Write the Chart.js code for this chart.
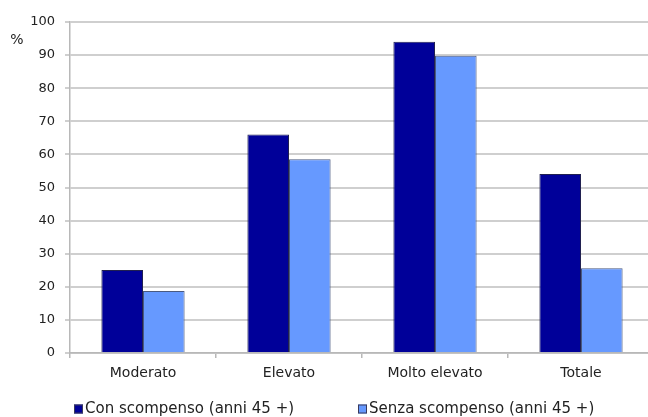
<!DOCTYPE html>
<html>
<head>
<meta charset="utf-8">
<script src="https://cdn.jsdelivr.net/npm/chart.js@4/dist/chart.umd.min.js"></script>
<style>
  html, body { margin: 0; padding: 0; background: #fff; overflow: hidden; }
  #wrap { width: 660px; height: 417px; }
</style>
</head>
<body>
<div id="wrap"><canvas id="c" width="660" height="417"></canvas></div>
<script>
const categories = ["Moderato", "Elevato", "Molto elevato", "Totale"];
const seriesNames = ["Con scompenso (anni 45 +)", "Senza scompenso (anni 45 +)"];
const conScompenso = [25.1, 66.0, 94.0, 54.1];
const senzaScompenso = [18.7, 58.5, 89.8, 25.6];
const yTicks = [0, 10, 20, 30, 40, 50, 60, 70, 80, 90, 100];
const yUnit = "%";

const FONT = "'DejaVu Sans', Verdana, sans-serif";

const legendPlugin = {
  id: 'customLegend',
  afterDraw(chart) {
    const ctx = chart.ctx;
    const xs = chart.scales.x;
    const offsets = [4, 288];
    const y = 409;
    ctx.save();
    ctx.font = "15px " + FONT;
    ctx.textBaseline = 'middle';
    ctx.textAlign = 'left';
    chart.data.datasets.forEach((ds, i) => {
      const x = xs.left + offsets[i];
      ctx.fillStyle = ds.backgroundColor;
      ctx.fillRect(x, y - 4.5, 9, 9);
      ctx.strokeStyle = '#3a3a5a';
      ctx.lineWidth = 1;
      ctx.strokeRect(x + 0.5, y - 4, 8, 8);
      ctx.fillStyle = '#222';
      ctx.fillText(ds.label, x + 11, y);
    });
    ctx.font = "14px " + FONT;
    ctx.textAlign = 'center';
    ctx.fillText(yUnit, 17, 40);
    ctx.restore();
  }
};

new Chart(document.getElementById('c'), {
  type: 'bar',
  data: {
    labels: categories,
    datasets: [
      { label: seriesNames[0], data: conScompenso, backgroundColor: '#000099', borderColor: '#202050', borderWidth: 1 },
      { label: seriesNames[1], data: senzaScompenso, backgroundColor: '#6699FF', borderColor: '#4a5a80', borderWidth: 1 }
    ]
  },
  options: {
    responsive: false,
    animation: false,
    layout: { padding: { top: 22, right: 6, bottom: 0, left: 0 } },
    plugins: { legend: { display: false }, tooltip: { enabled: false }, title: { display: false } },
    datasets: { bar: { categoryPercentage: 0.57, barPercentage: 1.0 } },
    scales: {
      x: {
        offset: true,
        grid: { display: true, drawOnChartArea: false, drawTicks: true, tickLength: 5, color: '#b8b8b8', lineWidth: 1.5 },
        border: { display: true, color: '#b8b8b8', width: 1.5 },
        ticks: { color: '#222', font: { family: FONT, size: 14 }, padding: 7 },
        afterFit(scale) { scale.height = 64; }
      },
      y: {
        min: 0, max: 100,
        afterBuildTicks(scale) { scale.ticks = yTicks.map(v => ({ value: v })); },
        grid: { color: '#cfcfcf', lineWidth: 2, drawTicks: true, tickLength: 5 },
        border: { display: true, color: '#b8b8b8', width: 1.5 },
        ticks: { color: '#222', font: { family: FONT, size: 13 }, padding: 10 },
        afterFit(scale) { scale.width = 70; }
      }
    }
  },
  plugins: [legendPlugin]
});
</script>
</body>
</html>
